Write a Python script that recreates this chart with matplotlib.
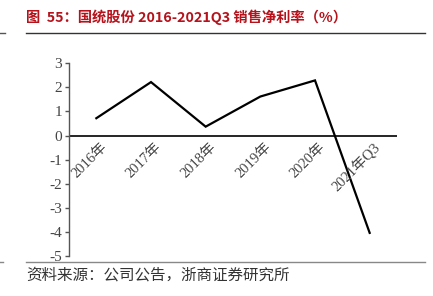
import matplotlib
matplotlib.use("Agg")
import matplotlib.pyplot as plt
from matplotlib.lines import Line2D

categories = ["2016年", "2017年", "2018年", "2019年", "2020年", "2021年Q3"]
values = [0.72, 2.22, 0.37, 1.62, 2.29, -4.04]
yticks = [-5, -4, -3, -2, -1, 0, 1, 2, 3]

title = "图  55：国统股份 2016-2021Q3 销售净利率（%）"
source = "资料来源：公司公告，浙商证券研究所"

W, H = 433, 296
fig = plt.figure(figsize=(W / 100, H / 100), dpi=100)
ax = fig.add_axes([69 / W, 1 - 256 / H, (397 - 69) / W, (256 - 63.3) / H])

x = list(range(len(categories)))
ax.plot(x, values, color="black", lw=1.6, solid_joinstyle="miter")
ax.set_xlim(-0.5, len(categories) - 0.5)
ax.set_ylim(-5, 3)
ax.axhline(0, color="black", lw=1.2)

for s in ["top", "right", "bottom"]:
    ax.spines[s].set_visible(False)
ax.spines["left"].set_color("#555555")
ax.spines["left"].set_linewidth(1.0)

ax.set_yticks(yticks)
ax.set_yticklabels([str(v) for v in yticks])
for t in ax.get_yticklabels():
    t.set_fontfamily(["Liberation Serif"])
    t.set_fontsize(11)
    t.set_color("#444444")
ax.tick_params(axis="y", direction="out", length=3, width=1, color="#555555", pad=2)
ax.set_xticks([])

serif = ["Liberation Serif", "Noto Sans CJK SC"]
for xi, lab in zip(x, categories):
    ax.text(xi + 0.07, -0.2, lab, rotation=45, ha="right", va="top",
            rotation_mode="anchor", family=serif, fontsize=10.5, color="#444444")

fig.text(26 / W, 1 - 17 / H, title, family=["Noto Sans CJK SC"], fontweight="bold",
         fontsize=10.3, color="#B5121B", va="center", ha="left")
fig.add_artist(Line2D([26 / W, 425 / W], [1 - 33 / H, 1 - 33 / H], color="#333333", lw=1.0))
fig.add_artist(Line2D([0, 5 / W], [1 - 33 / H, 1 - 33 / H], color="#555555", lw=1.0))
fig.add_artist(Line2D([26 / W, 425 / W], [1 - 262 / H, 1 - 262 / H], color="#888888", lw=1.0))
fig.add_artist(Line2D([0, 3 / W], [1 - 262 / H, 1 - 262 / H], color="#888888", lw=1.0))
fig.text(26 / W, 1 - 275 / H, source, family=["Noto Sans CJK SC"], fontsize=11.2,
         color="#333333", va="center", ha="left")

fig.savefig("out.png", dpi=100)
